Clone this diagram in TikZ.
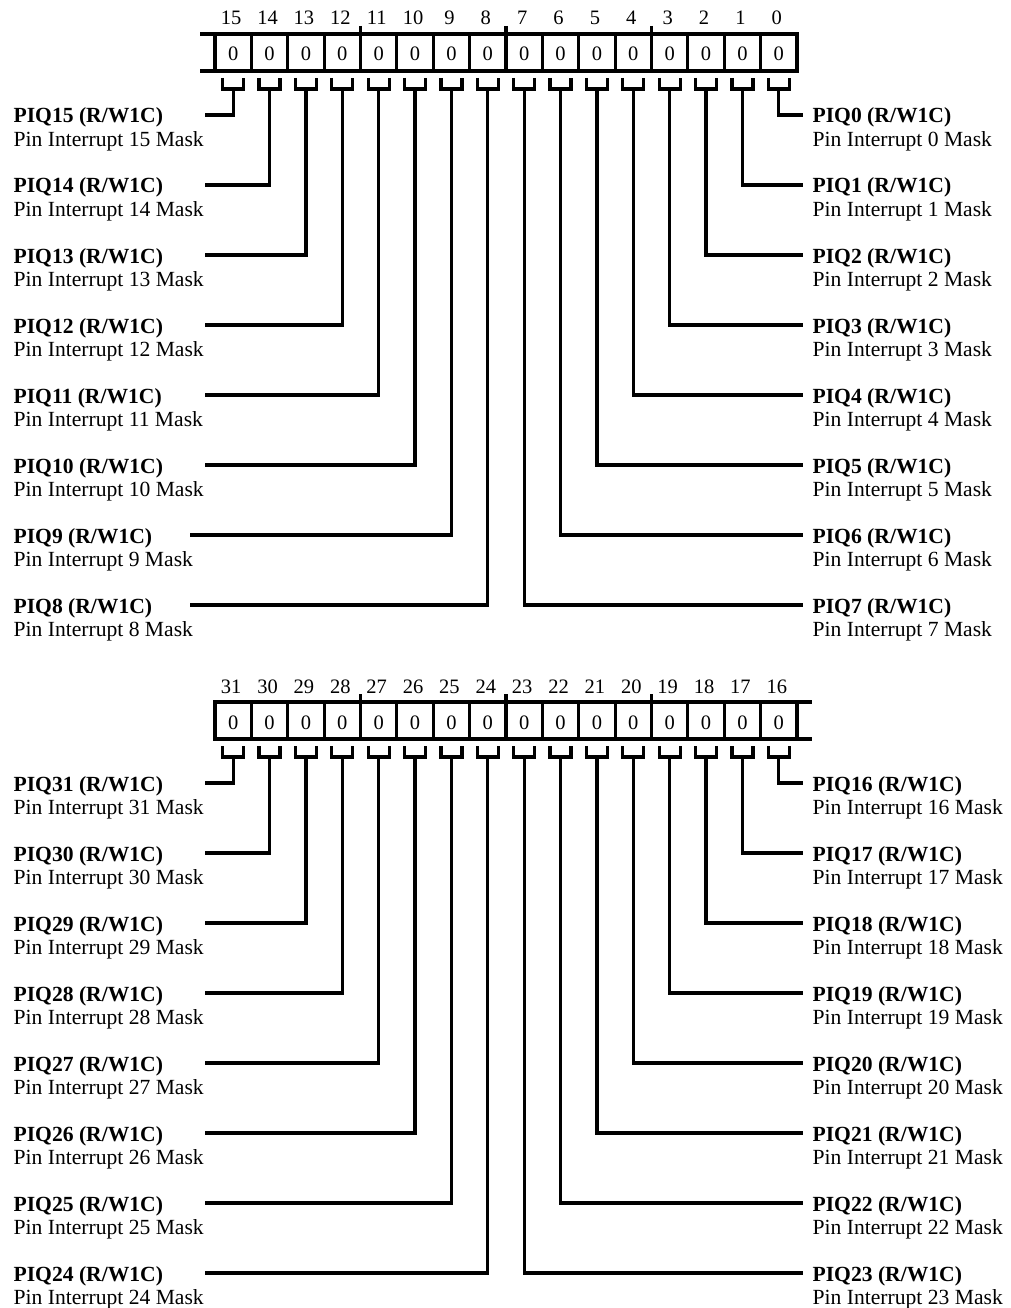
\documentclass[tikz,border=0pt]{standalone}
\usepackage{fontspec}
\setmainfont{Liberation Serif}
\begin{document}
\begin{tikzpicture}[x=1pt,y=-1pt,line width=3.2pt,
  num/.style={font=\fontsize{20.5}{24}\selectfont, inner sep=0pt, anchor=base},
  lblb/.style={font=\fontsize{21.6}{25}\selectfont\bfseries, inner sep=0pt, anchor=base west},
  lbln/.style={font=\fontsize{21.6}{25}\selectfont, inner sep=0pt, anchor=base west}]
\useasboundingbox (0,0) rectangle (1011,1308);
\def\w{36.375}
\foreach \r in {0,1}{
  \pgfmathsetmacro{\off}{668*\r}
  \pgfmathsetmacro{\xa}{ifthenelse(\r==0,200,213.4)}
  \pgfmathsetmacro{\xb}{ifthenelse(\r==0,798.6,812)}
  % register outline
  \draw (\xa,34+\off) -- (\xb,34+\off);
  \draw (\xa,71+\off) -- (\xb,71+\off);
  \foreach \k in {0,...,16}{
    \draw (215+\k*\w,34+\off) -- (215+\k*\w,71+\off);
  }
  \foreach \k in {4,8,12}{
    \draw (215+\k*\w,26+\off) -- (215+\k*\w,34+\off);
  }
  % cells, bit numbers, brackets
  \foreach \i in {0,...,15}{
    \pgfmathtruncatemacro{\bit}{16*\r+15-\i}
    \pgfmathsetmacro{\cx}{215+(\i+0.5)*\w}
    \node[num] (n\bit) at (\cx-2,25+\off) {\bit};
    \node[num] (v\bit) at (\cx,61+\off) {0};
    \draw (\cx-10.5,78+\off) -- (\cx-10.5,89+\off) -- (\cx+10.5,89+\off) -- (\cx+10.5,78+\off);
    \coordinate (s\bit) at (\cx,89+\off);
  }
  % left labels
  \foreach \i in {0,...,7}{
    \pgfmathtruncatemacro{\bit}{16*\r+15-\i}
    \pgfmathsetmacro{\ly}{115+70*\i+\off}
    \pgfmathsetmacro{\xe}{ifthenelse(\bit>9,205,190)}
    \coordinate (e\bit) at (\xe,\ly);
    \node[lblb] (t\bit) at (12,\ly+8) {PIQ\bit\ (R/W1C)};
    \node[lbln] (d\bit) at (12,\ly+31.5) {Pin Interrupt \bit\ Mask};
    \draw (s\bit) |- (e\bit);
  }
  % right labels
  \foreach \j in {0,...,7}{
    \pgfmathtruncatemacro{\bit}{16*\r+\j}
    \pgfmathsetmacro{\ly}{115+70*\j+\off}
    \coordinate (e\bit) at (803,\ly);
    \node[lblb] (t\bit) at (811,\ly+8) {PIQ\bit\ (R/W1C)};
    \node[lbln] (d\bit) at (811,\ly+31.5) {Pin Interrupt \bit\ Mask};
    \draw (s\bit) |- (e\bit);
  }
}
\end{tikzpicture}
\end{document}
